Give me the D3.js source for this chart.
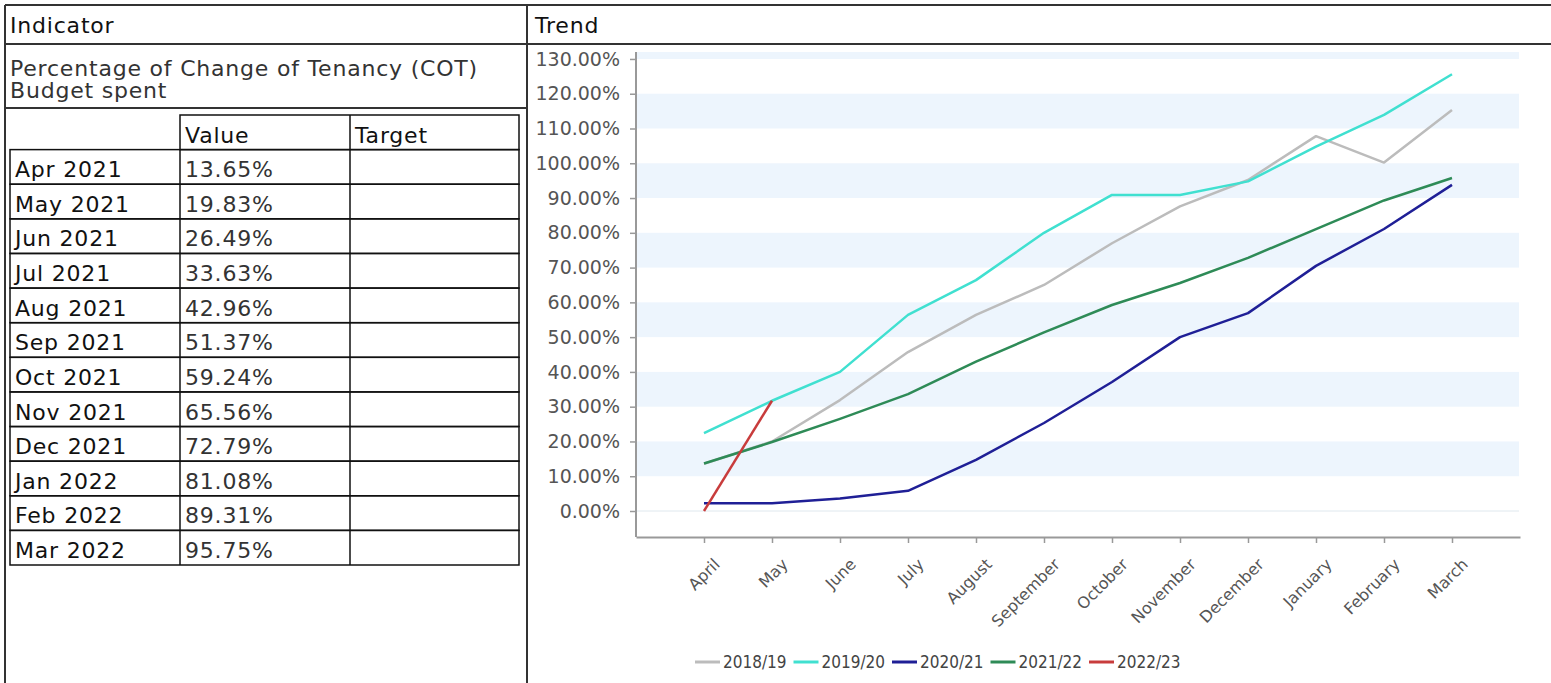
<!DOCTYPE html>
<html>
<head>
<meta charset="utf-8">
<script src="https://cdn.jsdelivr.net/npm/d3@7"></script>
<style>
  body { margin: 0; background: #fff; }
  svg { display: block; }
</style>
</head>
<body>
<svg id="page" width="1551" height="683"></svg>
<script>
/*
  COT budget indicator - table + trend chart
*/

var months = ["April", "May", "June", "July", "August", "September", "October",
              "November", "December", "January", "February", "March"],
    tableRows = ["Apr 2021", "May 2021", "Jun 2021", "Jul 2021", "Aug 2021", "Sep 2021",
                 "Oct 2021", "Nov 2021", "Dec 2021", "Jan 2022", "Feb 2022", "Mar 2022"],
    seasons = ["2018/19", "2019/20", "2020/21", "2021/22", "2022/23"],
    values1819 = [13.6, 20.0, 31.9, 45.7, 56.4, 65.0, 77.0, 87.6, 95.2, 107.8, 100.2, 115.3],
    values1920 = [22.4, 31.7, 40.0, 56.4, 66.4, 80.0, 90.9, 90.9, 94.8, 104.8, 113.9, 125.6],
    values2021 = [2.2, 2.2, 3.6, 5.8, 14.7, 25.3, 37.1, 50.0, 56.9, 70.5, 81.1, 93.8],
    values2122 = [13.65, 19.83, 26.49, 33.63, 42.96, 51.37, 59.24, 65.56, 72.79, 81.08, 89.31, 95.75],
    values2223 = [0, 31.7],
    yTicks = [0, 10, 20, 30, 40, 50, 60, 70, 80, 90, 100, 110, 120, 130],
    colors = ["#bcbcbc", "#40e0d0", "#1f1f96", "#2e8b57", "#c83c3c"];

var seriesValues = [values1819, values1920, values2021, values2122, values2223];

var svg = d3.select("#page"),
    tableFont = "DejaVu Sans",
    border = "#333";

// ---- outer table grid ----
var grid = svg.append("g").attr("stroke", border).attr("stroke-width", 2);
grid.append("line").attr("x1", 5).attr("x2", 1551).attr("y1", 5).attr("y2", 5);
grid.append("line").attr("x1", 5).attr("x2", 1551).attr("y1", 44).attr("y2", 44);
grid.append("line").attr("x1", 5).attr("x2", 527).attr("y1", 108).attr("y2", 108);
grid.append("line").attr("x1", 5).attr("x2", 5).attr("y1", 5).attr("y2", 683);
grid.append("line").attr("x1", 527).attr("x2", 527).attr("y1", 5).attr("y2", 683);

function label(x, y, txt, fill){
  return svg.append("text")
    .attr("x", x).attr("y", y)
    .style("font-family", tableFont)
    .style("font-size", "22px")
    .style("letter-spacing", "0.8px")
    .style("fill", fill || "#111")
    .text(txt);
}

label(10, 33, "Indicator");
label(535, 33, "Trend");
label(10, 76, "Percentage of Change of Tenancy (COT)", "#333");
label(10, 98, "Budget spent", "#333");

// ---- inner value table ----
var cols = [10, 180, 350, 519],
    rowY = d3.scaleBand().domain(["head"].concat(tableRows)).range([115, 565]),
    inner = svg.append("g");

// header cells (blank first cell has no border)
inner.append("rect").attr("x", cols[1]).attr("y", rowY("head"))
  .attr("width", cols[3] - cols[1]).attr("height", rowY.step())
  .attr("fill", "none").attr("stroke", "#111").attr("stroke-width", 1.5);
inner.append("line").attr("x1", cols[2]).attr("x2", cols[2])
  .attr("y1", rowY("head")).attr("y2", rowY("head") + rowY.step())
  .attr("stroke", "#111").attr("stroke-width", 1.5);
label(cols[1] + 5, rowY("head") + rowY.step() - 7, "Value");
label(cols[2] + 5, rowY("head") + rowY.step() - 7, "Target");

var rows = inner.selectAll(".row")
  .data(tableRows)
  .enter().append("g")
    .attr("class", "row")
    .attr("transform", function(d) { return "translate(0," + rowY(d) + ")"; });

rows.append("rect").attr("x", cols[0]).attr("width", cols[3] - cols[0])
  .attr("height", rowY.step()).attr("fill", "none")
  .attr("stroke", "#111").attr("stroke-width", 1.5);
[cols[1], cols[2]].forEach(function(cx){
  rows.append("line").attr("x1", cx).attr("x2", cx).attr("y1", 0).attr("y2", rowY.step())
    .attr("stroke", "#111").attr("stroke-width", 1.5);
});
rows.append("text")
  .attr("x", cols[0] + 5).attr("y", rowY.step() - 7)
  .style("font-family", tableFont).style("font-size", "22px").style("letter-spacing", "0.8px")
  .style("fill", "#111")
  .text(function(d) { return d; });
rows.append("text")
  .attr("x", cols[1] + 5).attr("y", rowY.step() - 7)
  .style("font-family", tableFont).style("font-size", "22px").style("letter-spacing", "0.8px")
  .style("fill", "#333")
  .text(function(d, i) { return values2122[i].toFixed(2) + "%"; });

// ---- trend chart ----
var plot = {left: 636, right: 1520, top: 52, axisY: 537},
    x = d3.scalePoint().domain(months).range([plot.left, plot.right]).padding(1),
    y = d3.scaleLinear().domain([0, 132]).range([511, plot.top]),
    chart = svg.append("g");

// alternating bands
chart.selectAll(".band")
  .data(yTicks.filter(function(d) { return d % 20 == 10; }))
  .enter().append("rect")
    .attr("class", "band")
    .attr("x", plot.left + 1)
    .attr("width", 1519 - plot.left - 1)
    .attr("y", function(d) { return y(Math.min(d + 10, 132)); })
    .attr("height", function(d) { return y(d) - y(Math.min(d + 10, 132)); })
    .attr("fill", "#edf5fd");

chart.append("line")
  .attr("x1", plot.left).attr("x2", 1519).attr("y1", y(0)).attr("y2", y(0))
  .attr("stroke", "#dfe8ee").attr("stroke-width", 1);

// y axis
var yAxis = chart.append("g")
  .attr("transform", "translate(" + plot.left + ",0)")
  .call(d3.axisLeft(y).tickValues(yTicks).tickSize(6).tickPadding(10)
    .tickFormat(function(d) { return d.toFixed(2) + "%"; }));
yAxis.select(".domain").remove();
yAxis.selectAll(".tick line").attr("stroke", "#999").attr("stroke-width", 1.5);
yAxis.selectAll("text")
  .style("font-family", "DejaVu Sans").style("font-size", "19px").style("fill", "#555");
chart.append("line")
  .attr("x1", plot.left).attr("x2", plot.left).attr("y1", plot.top).attr("y2", plot.axisY)
  .attr("stroke", "#999").attr("stroke-width", 2);

// x axis
var xAxis = chart.append("g")
  .attr("transform", "translate(0," + plot.axisY + ")")
  .call(d3.axisBottom(x).tickSize(6).tickSizeOuter(0));
xAxis.select(".domain").attr("stroke", "#999").attr("stroke-width", 2);
xAxis.selectAll(".tick line").attr("stroke", "#999").attr("stroke-width", 1.5);
xAxis.selectAll("text")
  .style("font-family", "DejaVu Sans").style("font-size", "16px").style("fill", "#555")
  .style("text-anchor", "end")
  .attr("dy", 0)
  .attr("transform", "translate(10,22) rotate(-45)");

// series lines
var line = d3.line()
  .x(function(d, i) { return x(months[i]); })
  .y(function(d) { return y(d); });

chart.selectAll(".series")
  .data(seriesValues)
  .enter().append("path")
    .attr("class", "series")
    .attr("d", function(d) { return line(d); })
    .attr("fill", "none")
    .attr("stroke", function(d, i) { return colors[i]; })
    .attr("stroke-width", 2.5)
    .attr("stroke-linejoin", "round");

// legend
var legend = chart.selectAll(".legend")
  .data(seasons)
  .enter().append("g")
    .attr("class", "legend")
    .attr("transform", function(d, i) { return "translate(" + (695 + i * 98.5) + ",662)"; });
legend.append("line")
  .attr("x1", 0).attr("x2", 25)
  .attr("stroke", function(d, i) { return colors[i]; })
  .attr("stroke-width", 3);
legend.append("text")
  .attr("x", 28).attr("dy", "0.36em")
  .style("font-family", "DejaVu Sans Condensed").style("font-size", "17px").style("fill", "#444")
  .text(function(d) { return d; });
</script>
</body>
</html>
